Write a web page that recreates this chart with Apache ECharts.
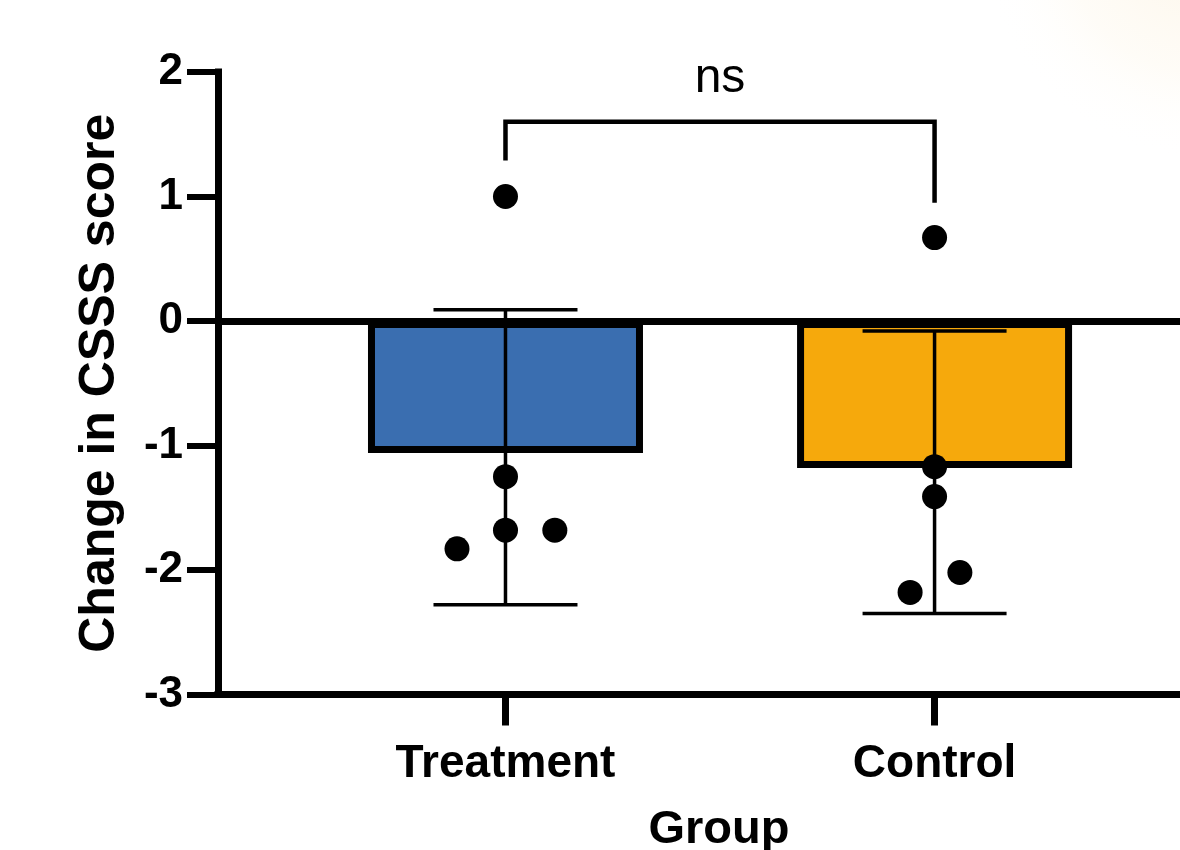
<!DOCTYPE html>
<html>
<head>
<meta charset="utf-8">
<script src="https://cdn.jsdelivr.net/npm/echarts@6/dist/echarts.min.js"></script>
<style>
html,body{margin:0;padding:0;background:#ffffff;}
#chart{width:1180px;height:850px;}
</style>
</head>
<body>
<div id="chart"></div>
<script>
// ---- data ----
const categories = ['Treatment', 'Control'];
const barMeans = [-1.06, -1.18];
const errUpper = [0.09, -0.08];
const errLower = [-2.28, -2.35];
const treatmentPoints = [1.0, -1.25, -1.68, -1.68, -1.83];
const treatmentJitter = [0, 0, 0, 0.115, -0.113];
const controlPoints = [0.67, -1.17, -1.41, -2.02, -2.18];
const controlJitter = [0, 0, 0, 0.059, -0.057];
const yMin = -3, yMax = 2, yInterval = 1;
const sigText = 'ns';
const bracketTop = 1.6, bracketLeftEnd = 1.29, bracketRightEnd = 0.95;
const yAxisTitle = 'Change in CSSS score';
const xAxisTitle = 'Group';

const FONT = "'Liberation Sans', Arial, Helvetica, sans-serif";
const barColors = ['#3a6eb0', '#f6a90c'];

const chart = echarts.init(document.getElementById('chart'), null, {renderer: 'canvas'});

const catIdx = categories.map((c, i) => i);

const scatterData = []
  .concat(treatmentPoints.map((v, j) => [0 + treatmentJitter[j], v]))
  .concat(controlPoints.map((v, j) => [1 + controlJitter[j], v]));

const option = {
  backgroundColor: '#ffffff',
  animation: false,
  graphic: [{
    type: 'circle',
    silent: true,
    z: -10,
    shape: {cx: 1200, cy: -60, r: 220},
    style: {
      fill: new echarts.graphic.RadialGradient(0.5, 0.5, 0.5, [
        {offset: 0, color: 'rgba(248,228,190,0.35)'},
        {offset: 0.6, color: 'rgba(252,240,215,0.2)'},
        {offset: 1, color: 'rgba(255,255,255,0)'}
      ])
    }
  }],
  grid: {left: 218, width: 962, top: 72, height: 622.5, containLabel: false, outerBoundsMode: 'none'},
  xAxis: {
    type: 'value',
    min: -0.670,
    max: 1.572,
    splitLine: {show: false},
    axisLine: {show: true, onZero: false, lineStyle: {color: '#000', width: 7, cap: 'square'}},
    axisTick: {show: true, customValues: catIdx, length: 31, inside: false, lineStyle: {color: '#000', width: 7}},
    axisLabel: {
      show: true,
      customValues: catIdx,
      margin: 47,
      formatter: v => categories[Math.round(v)] || '',
      fontFamily: FONT, fontWeight: 'bold', fontSize: 46, color: '#000'
    },
    name: xAxisTitle,
    nameLocation: 'middle',
    nameGap: 112,
    nameTextStyle: {fontFamily: FONT, fontWeight: 'bold', fontSize: 47, color: '#000', padding: [0, 0, 0, 40]}
  },
  yAxis: {
    type: 'value',
    min: yMin,
    max: yMax,
    interval: yInterval,
    splitLine: {show: false},
    axisLine: {show: true, onZero: false, lineStyle: {color: '#000', width: 7, cap: 'square'}},
    axisTick: {show: true, length: 31, lineStyle: {color: '#000', width: 6}},
    axisLabel: {
      margin: 35,
      fontFamily: FONT, fontWeight: 'bold', fontSize: 44, color: '#000'
    },
    name: yAxisTitle,
    nameLocation: 'middle',
    nameGap: 93,
    nameRotate: 90,
    nameTextStyle: {fontFamily: FONT, fontWeight: 'bold', fontSize: 50, color: '#000'}
  },
  series: [
    {
      type: 'bar',
      barWidth: 275,
      z: 2,
      data: barMeans.map((m, i) => ({
        value: [i, m],
        itemStyle: {color: barColors[i], borderColor: '#000', borderWidth: 7}
      })),
      markLine: {
        silent: true,
        symbol: ['none', 'none'],
        label: {show: false},
        lineStyle: {color: '#000', width: 7, type: 'solid'},
        z: 5,
        data: [{yAxis: 0}]
      }
    },
    {
      type: 'custom',
      z: 6,
      clip: false,
      data: catIdx.map(i => [i, errLower[i], errUpper[i]]),
      encode: {x: 0, y: [1, 2]},
      renderItem: function (params, api) {
        const x = api.value(0);
        const lo = api.coord([x, api.value(1)]);
        const hi = api.coord([x, api.value(2)]);
        const half = 72;
        const st = {stroke: '#000', lineWidth: 3.5};
        return {
          type: 'group',
          children: [
            {type: 'line', shape: {x1: hi[0], y1: hi[1], x2: lo[0], y2: lo[1]}, style: st},
            {type: 'line', shape: {x1: hi[0] - half, y1: hi[1], x2: hi[0] + half, y2: hi[1]}, style: st},
            {type: 'line', shape: {x1: lo[0] - half, y1: lo[1], x2: lo[0] + half, y2: lo[1]}, style: st}
          ]
        };
      }
    },
    {
      type: 'scatter',
      z: 8,
      symbol: 'circle',
      symbolSize: 25,
      itemStyle: {color: '#000', opacity: 1},
      data: scatterData
    },
    {
      type: 'custom',
      z: 7,
      clip: false,
      data: [[0, 1, bracketTop, bracketLeftEnd, bracketRightEnd]],
      renderItem: function (params, api) {
        const x1 = api.value(0), x2 = api.value(1);
        const pL = api.coord([x1, api.value(3)]);
        const pTL = api.coord([x1, api.value(2)]);
        const pTR = api.coord([x2, api.value(2)]);
        const pR = api.coord([x2, api.value(4)]);
        return {
          type: 'group',
          children: [
            {
              type: 'polyline',
              shape: {points: [pL, pTL, pTR, pR]},
              style: {stroke: '#000', lineWidth: 4.5, fill: null, lineJoin: 'miter'}
            },
            {
              type: 'text',
              style: {
                text: sigText,
                x: (pTL[0] + pTR[0]) / 2,
                y: pTL[1] - 43,
                align: 'center',
                verticalAlign: 'middle',
                fontFamily: FONT,
                fontSize: 48,
                fontWeight: 'normal',
                fill: '#000'
              }
            }
          ]
        };
      }
    }
  ]
};

chart.setOption(option);
</script>
</body>
</html>
